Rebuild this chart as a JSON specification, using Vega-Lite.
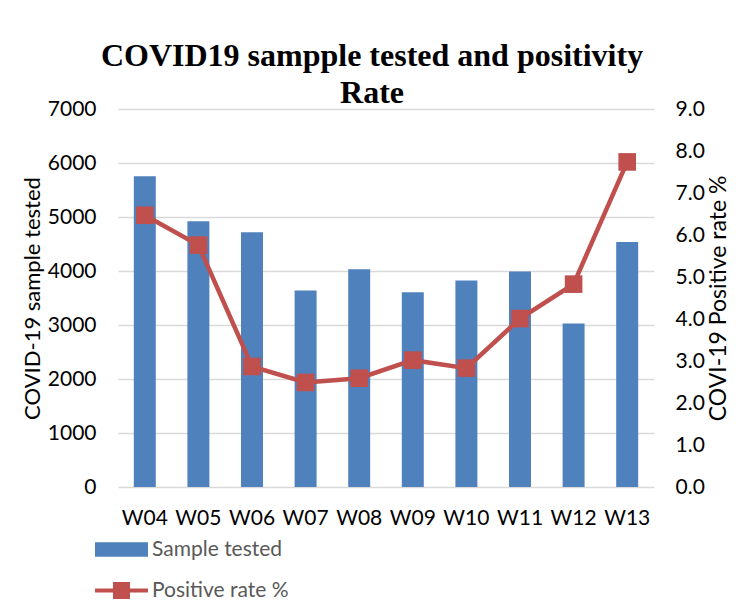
{
  "$schema": "https://vega.github.io/schema/vega-lite/v6.json",
  "autosize": "none",
  "width": 536,
  "height": 378,
  "padding": {"left": 118, "top": 109, "right": 85, "bottom": 122},
  "background": "white",
  "title": {
    "text": ["COVID19 sampple tested and positivity", "Rate"],
    "font": "Liberation Serif",
    "fontSize": 32,
    "fontWeight": "bold",
    "color": "#000000",
    "lineHeight": 37,
    "anchor": "middle",
    "dx": -14,
    "offset": -12
  },
  "data": {
    "values": [
      {"week": "W04", "samples": 5754, "rate": 6.47},
      {"week": "W05", "samples": 4920, "rate": 5.76},
      {"week": "W06", "samples": 4717, "rate": 2.87},
      {"week": "W07", "samples": 3637, "rate": 2.49},
      {"week": "W08", "samples": 4031, "rate": 2.59},
      {"week": "W09", "samples": 3606, "rate": 3.02},
      {"week": "W10", "samples": 3822, "rate": 2.83},
      {"week": "W11", "samples": 3989, "rate": 4.01},
      {"week": "W12", "samples": 3026, "rate": 4.83},
      {"week": "W13", "samples": 4537, "rate": 7.74}
    ]
  },
  "encoding": {
    "x": {
      "field": "week",
      "type": "nominal",
      "sort": null,
      "scale": {"paddingInner": 0.59, "paddingOuter": 0.295},
      "axis": {
        "title": null,
        "labelAngle": 0,
        "ticks": false,
        "domain": false,
        "labelFont": "Lato",
        "labelFontSize": 21,
        "labelColor": "#000000",
        "labelPadding": 20
      }
    }
  },
  "layer": [
    {
      "mark": {"type": "bar", "color": "#4F81BD"},
      "encoding": {
        "y": {
          "field": "samples",
          "type": "quantitative",
          "scale": {"domain": [0, 7000]},
          "axis": {
            "title": "COVID-19 sample tested",
            "values": [0, 1000, 2000, 3000, 4000, 5000, 6000, 7000],
            "format": "d",
            "grid": true,
            "gridColor": "#D9D9D9",
            "gridWidth": 1.5,
            "domain": false,
            "ticks": false,
            "labelFont": "Lato",
            "labelFontSize": 21,
            "labelColor": "#000000",
            "labelPadding": 22,
            "titleFont": "Lato",
            "titleFontSize": 22,
            "titleFontWeight": "normal",
            "titleColor": "#000000",
            "titlePadding": 3
          }
        },
        "color": {
          "datum": "Sample tested",
          "type": "nominal",
          "scale": {"domain": ["Sample tested", "Positive rate %"], "range": ["#4F81BD", "#C0504D"]},
          "legend": {
            "title": null,
            "orient": "none",
            "direction": "vertical",
            "padding": 0,
            "legendX": -23,
            "legendY": 414,
            "labelFont": "Lato",
            "labelFontSize": 21,
            "labelColor": "#595959",
            "labelOffset": 4,
            "rowPadding": 4,
            "symbolSize": 2809,
            "encode": {
              "symbols": {
                "update": {
                  "shape": {"signal": "datum.value === 'Sample tested' ? 'M-1,-0.27H1V0.27H-1Z' : 'M-1,-0.08H-0.32V-0.32H0.32V-0.08H1V0.08H0.32V0.32H-0.32V0.08H-1Z'"},
                  "fill": {"signal": "datum.value === 'Sample tested' ? '#4F81BD' : '#C0504D'"},
                  "fillOpacity": {"value": 1},
                  "strokeWidth": {"value": 0}
                }
              }
            }
          }
        }
      }
    },
    {
      "mark": {"type": "line", "color": "#C0504D", "strokeWidth": 4.5, "point": {"filled": true, "shape": "square", "size": 310, "color": "#C0504D", "opacity": 1}},
      "encoding": {
        "y": {
          "field": "rate",
          "type": "quantitative",
          "scale": {"domain": [0, 9]},
          "axis": {
            "orient": "right",
            "title": "COVI-19 Positive rate %",
            "values": [0, 1, 2, 3, 4, 5, 6, 7, 8, 9],
            "format": ".1f",
            "grid": false,
            "domain": false,
            "ticks": false,
            "labelFont": "Lato",
            "labelFontSize": 21,
            "labelColor": "#000000",
            "labelPadding": 21,
            "titleFont": "Lato",
            "titleFontSize": 23,
            "titleFontWeight": "normal",
            "titleColor": "#000000",
            "titleAngle": -90,
            "titlePadding": 26
          }
        },
        "color": {"datum": "Positive rate %", "type": "nominal"}
      }
    }
  ],
  "resolve": {"scale": {"y": "independent"}},
  "config": {"view": {"stroke": null}}
}
